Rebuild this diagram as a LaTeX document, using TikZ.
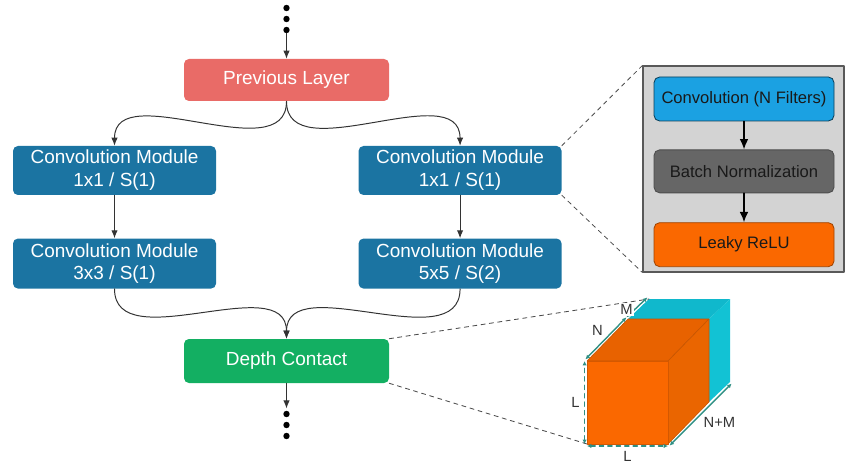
\documentclass[tikz,border=0pt]{standalone}
\usepackage{fontspec}
\setmainfont{Liberation Sans}
\usetikzlibrary{
  arrows.meta,
  calc,
  positioning
}
\definecolor{IncRed}{HTML}{E96B67}
\definecolor{IncBlue}{HTML}{1B74A2}
\definecolor{IncGreen}{HTML}{13AF62}
\definecolor{IncPanel}{HTML}{D3D3D3}
\definecolor{IncSky}{HTML}{1BA1E2}
\definecolor{IncGray}{HTML}{666666}
\definecolor{IncOrange}{HTML}{FA6800}
\definecolor{IncOrangeTop}{HTML}{E86200}
\definecolor{IncOrangeSide}{HTML}{EA6500}
\definecolor{IncCyan}{HTML}{12C2D4}
\definecolor{IncCyanTop}{HTML}{10B8CC}
\definecolor{IncTeal}{HTML}{2F8F83}
\definecolor{IncLine}{HTML}{333333}
\tikzset{
  >=Latex,
  every picture/.style = {line join=round, line cap=round},
  layer/.style = {
    fill=IncBlue,
    text=white,
    rounded corners=3.5pt,
    minimum width=5.075cm,
    minimum height=1.225cm,
    align=center,
    inner sep=2pt,
    font=\fontsize{13.5}{16.3}\selectfont
  },
  layer prev/.style = {layer, fill=IncRed, minimum width=5.125cm, minimum height=1.05cm},
  layer concat/.style = {layer, fill=IncGreen, minimum width=5.125cm, minimum height=1.1cm},
  panel box/.style = {
    draw=black!65,
    fill=IncPanel,
    line width=0.8pt,
    minimum width=5.025cm,
    minimum height=5.15cm,
    inner sep=0pt
  },
  unit/.style = {
    line width=0.6pt,
    rounded corners=4pt,
    minimum width=4.5cm,
    minimum height=1.1cm,
    inner sep=2pt,
    text=black!90,
    font=\fontsize{11.8}{14}\selectfont
  },
  unit conv/.style = {unit, draw=black!60!IncSky, fill=IncSky},
  unit norm/.style = {unit, draw=black!70, fill=IncGray, minimum height=1.075cm},
  unit act/.style = {unit, draw=black!35!IncOrange, fill=IncOrange},
  dot/.style = {circle, fill=black, inner sep=0pt, minimum size=0.16cm},
  signal/.style = {-{Latex[length=2mm,width=1.6mm]}, draw=IncLine, line width=0.7pt},
  signal bold/.style = {-{Latex[length=2.6mm,width=2.2mm]}, draw=black, line width=1.1pt},
  zoom guide/.style = {draw=black!70, dashed, line width=0.6pt},
  dim line/.style = {{Latex[length=1.1mm,width=1.1mm]}-{Latex[length=1.1mm,width=1.1mm]}, draw=IncTeal, line width=1pt},
  dim dashed/.style = {dim line, dashed},
  dim label/.style = {font=\fontsize{10.5}{12}\selectfont, text=black!80, inner sep=1pt}
}

\begin{document}
\begin{tikzpicture}[x=1cm,y=1cm]
  \useasboundingbox (0,0) rectangle (21.625,11.6);

  % main branch
  \node[dot] (dotA1) at (7.1625,11.40) {};
  \node[dot] (dotA2) at (7.1625,11.125) {};
  \node[dot] (dotA3) at (7.1625,10.85) {};
  \node[layer prev] (prev) at (7.1625,9.6) {Previous Layer};

  \node[layer] (convL1) at (2.8625,7.3375) {Convolution Module\\1x1 / S(1)};
  \node[layer, right=3.55cm of convL1] (convR1) {Convolution Module\\1x1 / S(1)};
  \node[layer, minimum height=1.25cm, below=1.075cm of convL1] (convL2) {Convolution Module\\3x3 / S(1)};
  \node[layer, minimum height=1.25cm, below=1.075cm of convR1] (convR2) {Convolution Module\\5x5 / S(2)};

  \node[layer concat] (concat) at (7.1625,2.575) {Depth Contact};
  \node[dot] (dotB1) at (7.1625,1.25) {};
  \node[dot] (dotB2) at (7.1625,0.975) {};
  \node[dot] (dotB3) at (7.1625,0.70) {};

  \draw[signal] (dotA3.south) -- (prev.north);
  \draw[signal] (prev.south) to[out=-90, in=90] (convL1.north);
  \draw[signal] (prev.south) to[out=-90, in=90] (convR1.north);
  \draw[signal] (convL1.south) -- (convL2.north);
  \draw[signal] (convR1.south) -- (convR2.north);
  \draw[signal] (convL2.south) to[out=-90, in=90] (concat.north);
  \draw[signal] (convR2.south) to[out=-90, in=90] (concat.north);
  \draw[signal, shorten >=1.5pt] (concat.south) -- (dotB1.north);

  % zoom on a convolution module
  \node[panel box] (panel) at (18.5875,7.375) {};
  \node[unit conv] (filt) at (18.6,9.125) {Convolution (N Filters)};
  \node[unit norm, below=0.7cm of filt] (norm) {Batch Normalization};
  \node[unit act, below=0.725cm of norm] (relu) {Leaky ReLU};
  \draw[signal bold] (filt.south) -- (norm.north);
  \draw[signal bold] (norm.south) -- (relu.north);

  \draw[zoom guide] (convR1.north east) -- (panel.north west);
  \draw[zoom guide] (convR1.south east) -- (panel.south west);

  % output volume
  \coordinate (frontBL) at (14.675,0.5);
  \coordinate (frontBR) at (16.7,0.5);
  \coordinate (frontTR) at (16.7,2.575);
  \coordinate (frontTL) at (14.675,2.575);
  \coordinate (midTL) at (15.7,3.625);
  \coordinate (midTR) at (17.725,3.625);
  \coordinate (midBR) at (17.725,1.55);
  \coordinate (backTL) at (16.225,4.125);
  \coordinate (backTR) at (18.25,4.125);
  \coordinate (backBR) at (18.25,2.05);

  \fill[IncCyanTop] (midTL) -- (midTR) -- (backTR) -- (backTL) -- cycle;
  \fill[IncCyan] (midTR) -- (backTR) -- (backBR) -- (midBR) -- cycle;
  \fill[IncOrangeTop, draw=IncOrangeTop!85!black, line width=0.4pt] (frontTL) -- (frontTR) -- (midTR) -- (midTL) -- cycle;
  \fill[IncOrangeSide, draw=IncOrangeSide!85!black, line width=0.4pt] (frontTR) -- (midTR) -- (midBR) -- (frontBR) -- cycle;
  \fill[IncOrange, draw=IncOrange!85!black, line width=0.4pt] (frontBL) rectangle (frontTR);

  \draw[zoom guide] (concat.north east) -- (backTL);
  \draw[zoom guide] (concat.south east) -- (frontBL);

  \draw[dim dashed] ($(frontBL)+(-0.06,0)$) -- node[dim label, left=2pt] {L} ($(frontTL)+(-0.06,0)$);
  \draw[dim dashed] ($(frontBL)+(0,-0.05)$) -- node[dim label, below=2pt] {L} ($(frontBR)+(0,-0.05)$);
  \draw[dim line] ($(frontTL)+(-0.04,0.04)$) -- node[dim label, above left=1pt] {N} ($(midTL)+(-0.04,0.04)$);
  \draw[dim line] ($(midTL)+(-0.04,0.04)$) -- node[dim label, fill=white, left=0pt, pos=0.4] {M} ($(backTL)+(-0.04,0.04)$);
  \draw[dim line] ($(frontBR)+(0.04,-0.04)$) -- node[dim label, below right=1pt] {N+M} ($(backBR)+(0.04,-0.04)$);
\end{tikzpicture}
\end{document}
